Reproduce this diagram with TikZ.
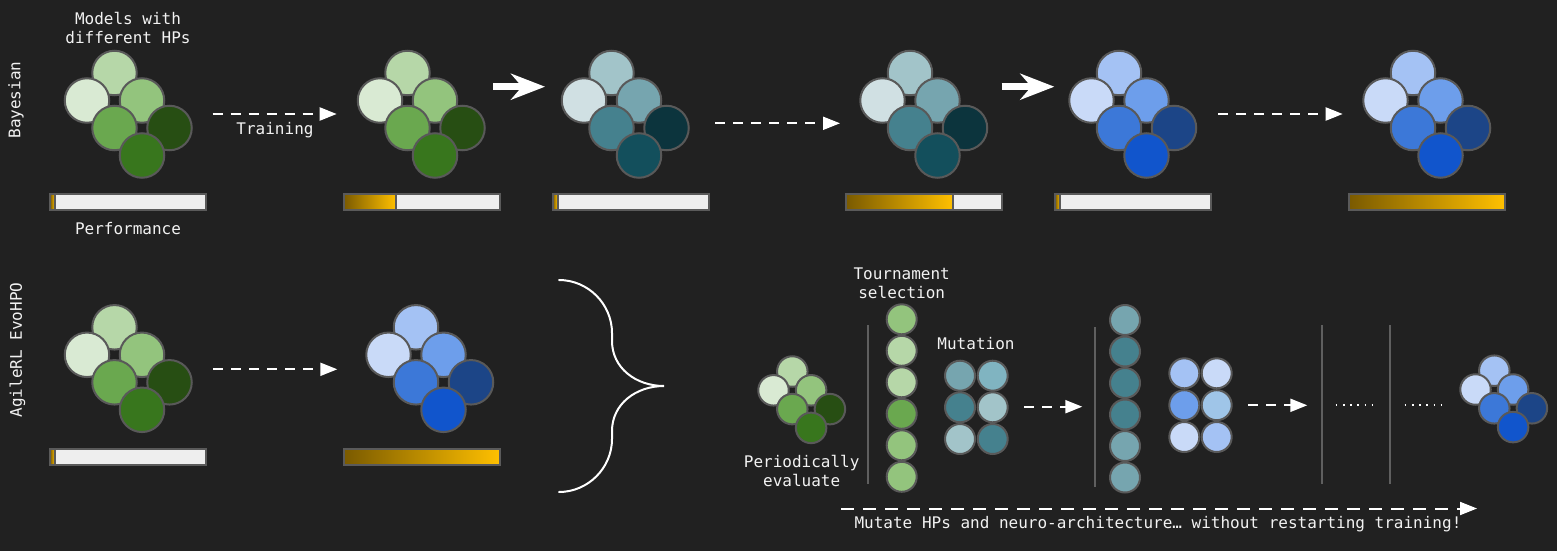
\documentclass[tikz,border=0pt]{standalone}
\usepackage{fontspec}
\setmonofont{DejaVu Sans Mono}
\usetikzlibrary{arrows.meta,shadings}
\definecolor{bg}{HTML}{212121}
\definecolor{ballline}{HTML}{595959}
\definecolor{vgray}{HTML}{5f5f5f}
\definecolor{barw}{HTML}{EEEEEE}
\definecolor{barline}{HTML}{5a5a5a}
\definecolor{goldA}{HTML}{7A5A00}
\definecolor{goldB}{HTML}{FFC000}
\definecolor{txt}{HTML}{F2F2F2}
% greens
\definecolor{ga}{HTML}{B6D7A8}\definecolor{gb}{HTML}{D9EAD3}\definecolor{gc}{HTML}{93C47D}
\definecolor{gd}{HTML}{6AA84F}\definecolor{ge}{HTML}{274E13}\definecolor{gf}{HTML}{38761D}
% cyans
\definecolor{ca}{HTML}{A2C4C9}\definecolor{cb}{HTML}{D0E0E3}\definecolor{cc}{HTML}{76A5AF}
\definecolor{cd}{HTML}{45818E}\definecolor{ce}{HTML}{0C343D}\definecolor{cf}{HTML}{134F5C}
\definecolor{cx}{HTML}{80B4C1}
% blues
\definecolor{ba}{HTML}{A4C2F4}\definecolor{bb}{HTML}{C9DAF8}\definecolor{bc}{HTML}{6D9EEB}
\definecolor{bd}{HTML}{3C78D8}\definecolor{be}{HTML}{1C4587}\definecolor{bf}{HTML}{1155CC}
\definecolor{bx}{HTML}{9FC5E8}

\newcommand\hpclus[6]{% name, x, y, size, spacing, palette
  \node[ball, minimum size=#4, fill=#6a] (#1-t) at (#2,#3) {};
  \node[ball, minimum size=#4, fill=#6b] (#1-l) at ({#2-#5},{#3+#5}) {};
  \node[ball, minimum size=#4, fill=#6c] (#1-r) at ({#2+#5},{#3+#5}) {};
  \node[ball, minimum size=#4, fill=#6d] (#1-m) at (#2,{#3+2*#5}) {};
  \node[ball, minimum size=#4, fill=#6e] (#1-d) at ({#2+2*#5},{#3+2*#5}) {};
  \node[ball, minimum size=#4, fill=#6f] (#1-b) at ({#2+#5},{#3+3*#5}) {};
}
\newcommand\perfbar[4]{% name, x0, y0, gold end
  \node[barbody, anchor=north west] (#1) at (#2,#3) {};
  \shade[left color=goldA, right color=goldB] (#1.north west) rectangle (#4,{#3+16});
  \draw[barline, line width=2pt] (#4,#3) -- (#4,{#3+16});
  \draw[barline, line width=2pt] (#1.north west) rectangle (#1.south east);
}

\begin{document}
\begin{tikzpicture}[x=1pt,y=-1pt,
  ball/.style={circle, draw=ballline, line width=2pt, inner sep=0pt, outer sep=0pt},
  barbody/.style={rectangle, fill=barw, minimum width=156pt, minimum height=16pt, inner sep=0pt, outer sep=0pt},
  lbl/.style={text=txt, font=\ttfamily\fontsize{16}{19}\selectfont, align=center, inner sep=0pt},
  darr/.style={draw=white, line width=2pt, dash pattern=on 10pt off 8pt, -{Triangle[length=17pt,width=13pt]}},
  sarr/.style={draw=white, line width=6.5pt, -{Stealth[length=34pt,width=26pt,inset=11pt]}},
  vline/.style={draw=vgray, line width=2pt},
  dots/.style={draw=white, line width=1.6pt, dash pattern=on 1.6pt off 5.6pt},
]
\fill[bg] (0,0) rectangle (1557,551);
\useasboundingbox (0,0) rectangle (1557,551);

% ---------- labels ----------
\node[lbl, rotate=90] (bay) at (16,100) {Bayesian};
\node[lbl, rotate=90] (evo) at (17.5,350) {AgileRL EvoHPO};
\node[lbl] (models) at (128,27.5) {Models with\\different HPs};
\node[lbl] (perf) at (128,229) {Performance};
\node[lbl] (train) at (275,130) {Training};

% ---------- top row clusters ----------
\hpclus{c1}{114.5}{73}{44.5}{27.5}{g}
\hpclus{c2}{407.5}{73}{44.5}{27.5}{g}
\hpclus{c3}{611.5}{73}{44.5}{27.5}{c}
\hpclus{c4}{910}{73}{44.5}{27.5}{c}
\hpclus{c5}{1119}{73}{44.5}{27.5}{b}
\hpclus{c6}{1413}{73}{44.5}{27.5}{b}

\perfbar{p1}{50}{194}{55}
\perfbar{p2}{343.7}{194}{396}
\perfbar{p3}{552.7}{194}{557.5}
\perfbar{p4}{846}{194}{953}
\perfbar{p5}{1055}{194}{1060}
\perfbar{p6}{1348.7}{194}{1504.7}

\coordinate (a1s) at (212.7,114); \coordinate (a1e) at (336.7,114);
\coordinate (a2s) at (493.3,86.7); \coordinate (a2e) at (545,86.7);
\coordinate (a3s) at (715,123.3); \coordinate (a3e) at (840,123.3);
\coordinate (a4s) at (1001.7,86.7); \coordinate (a4e) at (1054.3,86.7);
\coordinate (a5s) at (1218,114); \coordinate (a5e) at (1342.7,114);
\draw[darr] (a1s) -- (a1e);
\draw[sarr] (a2s) -- (a2e);
\draw[darr] (a3s) -- (a3e);
\draw[sarr] (a4s) -- (a4e);
\draw[darr] (a5s) -- (a5e);

% ---------- bottom row ----------
\hpclus{d1}{114.5}{327.3}{44.5}{27.5}{g}
\hpclus{d2}{416}{327.3}{44.5}{27.5}{b}
\perfbar{q1}{50}{448.7}{55}
\perfbar{q2}{343.7}{448.7}{499.7}
\coordinate (b1s) at (213.3,369.3); \coordinate (b1e) at (337.3,369.3);
\draw[darr] (b1s) -- (b1e);

% brace
\draw[white, line width=2pt, line cap=round]
  (559,280) .. controls (588,280) and (612,304) .. (612,333) -- (612,341)
  .. controls (612,368) and (636,386) .. (664,386)
  .. controls (636,386) and (612,404) .. (612,431) -- (612,439)
  .. controls (612,468) and (588,492) .. (559,492);

% evaluate cluster
\hpclus{e1}{792.3}{371.5}{30.5}{18.8}{g}
\node[lbl] (peval) at (801.7,471) {Periodically\\evaluate};

\draw[vline] (868.3,325) -- (868.3,484);
\node[lbl] (tourn) at (901.7,283) {Tournament\\selection};

% tournament column
\node[ball, minimum size=30, fill=gc] (t1) at (901.7,319.3) {};
\node[ball, minimum size=30, fill=ga] (t2) at (901.7,350.8) {};
\node[ball, minimum size=30, fill=ga] (t3) at (901.7,382.3) {};
\node[ball, minimum size=30, fill=gd] (t4) at (901.7,413.8) {};
\node[ball, minimum size=30, fill=gc] (t5) at (901.7,445.3) {};
\node[ball, minimum size=30, fill=gc] (t6) at (901.7,476.8) {};

% mutation grid
\node[lbl] (mut) at (976,344) {Mutation};
\node[ball, minimum size=30, fill=cc] (m1) at (960,375.7) {};
\node[ball, minimum size=30, fill=cx] (m2) at (992.7,375.7) {};
\node[ball, minimum size=30, fill=cd] (m3) at (960,407.3) {};
\node[ball, minimum size=30, fill=ca] (m4) at (992.7,407.3) {};
\node[ball, minimum size=30, fill=ca] (m5) at (960,439) {};
\node[ball, minimum size=30, fill=cd] (m6) at (992.7,439) {};

\coordinate (c1s) at (1024,406.7); \coordinate (c1e) at (1082.3,406.7);
\draw[darr] (c1s) -- (c1e);

\draw[vline] (1095.3,327) -- (1095.3,486.7);
% teal column
\node[ball, minimum size=30, fill=cc] (u1) at (1125,320) {};
\node[ball, minimum size=30, fill=cd] (u2) at (1125,351.5) {};
\node[ball, minimum size=30, fill=cd] (u3) at (1125,383) {};
\node[ball, minimum size=30, fill=cd] (u4) at (1125,414.5) {};
\node[ball, minimum size=30, fill=cc] (u5) at (1125,446) {};
\node[ball, minimum size=30, fill=cc] (u6) at (1125,477.5) {};

% blue grid
\node[ball, minimum size=30, fill=ba] (n1) at (1184.3,373.3) {};
\node[ball, minimum size=30, fill=bb] (n2) at (1216.7,373.3) {};
\node[ball, minimum size=30, fill=bc] (n3) at (1184.3,405.2) {};
\node[ball, minimum size=30, fill=bx] (n4) at (1216.7,405.2) {};
\node[ball, minimum size=30, fill=bb] (n5) at (1184.3,437) {};
\node[ball, minimum size=30, fill=ba] (n6) at (1216.7,437) {};

\coordinate (c2s) at (1248.3,405.3); \coordinate (c2e) at (1307.3,405.3);
\draw[darr] (c2s) -- (c2e);

\draw[vline] (1321.7,325) -- (1321.7,484.3);
\coordinate (o1s) at (1335.7,404.7); \coordinate (o1e) at (1373,404.7);
\draw[dots] (o1s) -- (o1e);
\draw[vline] (1390,325) -- (1390,484.3);
\coordinate (o2s) at (1404.7,404.7); \coordinate (o2e) at (1442,404.7);
\draw[dots] (o2s) -- (o2e);

\hpclus{e2}{1494.3}{370.7}{30.5}{18.8}{b}

% long arrow
\coordinate (ls) at (841,508.5); \coordinate (le) at (1477,508.5);
\draw[darr, dash pattern=on 13pt off 9pt] (ls) -- (le);
\node[lbl] (mutlong) at (1158,524) {Mutate HPs and neuro-architecture… without restarting training!};
\end{tikzpicture}
\end{document}
